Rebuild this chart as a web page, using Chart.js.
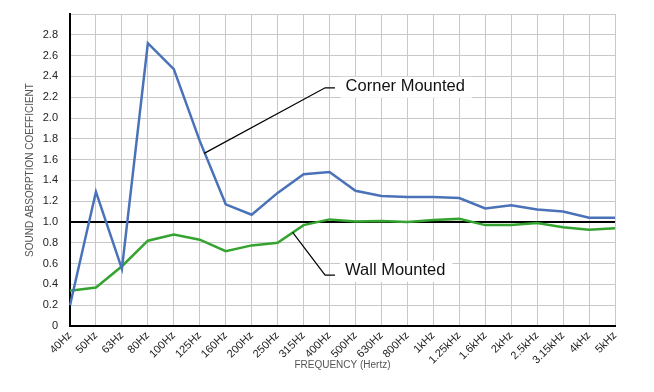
<!DOCTYPE html>
<html>
<head>
<meta charset="utf-8">
<script src="https://cdn.jsdelivr.net/npm/chart.js@4/dist/chart.umd.min.js"></script>
<style>
  html, body { margin: 0; padding: 0; background: #fff; }
  #chart { display: block; }
</style>
</head>
<body>
<canvas id="chart" width="654" height="392"></canvas>
<script>
const frequencies = ["40Hz", "50Hz", "63Hz", "80Hz", "100Hz", "125Hz", "160Hz", "200Hz", "250Hz", "315Hz", "400Hz",
    "500Hz", "630Hz", "800Hz", "1kHz", "1.25kHz", "1.6kHz", "2kHz", "2.5kHz", "3.15kHz", "4kHz", "5kHz"];

const cornerMounted = [0.20, 1.29, 0.55, 2.72, 2.47, 1.78, 1.17, 1.07, 1.28, 1.46, 1.48,
    1.30, 1.25, 1.24, 1.24, 1.23, 1.13, 1.16, 1.12, 1.10, 1.04, 1.04];

const wallMounted = [0.34, 0.37, 0.575, 0.82, 0.88, 0.83, 0.72, 0.775, 0.80, 0.97, 1.025,
    1.005, 1.01, 1.0, 1.02, 1.03, 0.97, 0.97, 0.99, 0.95, 0.925, 0.94];

const seriesNames = ["Corner Mounted", "Wall Mounted"];

const yMin = 0;
const yMax = 3;
const yStep = 0.2;

// callout labels: where the leader touches the line, the elbow, and where the text sits (in data units)
const callouts = [
    { text: seriesNames[0], from: [5.17, 1.66], elbow: [9.83, 2.29], end: 10.21, textX: 10.62, textY: 2.30 },
    { text: seriesNames[1], from: [8.58, 0.90], elbow: [9.83, 0.49], end: 10.21, textX: 10.60, textY: 0.53 }
];

const calloutPlugin = {
    id: "callouts",
    afterDatasetsDraw(chart) {
        const ctx = chart.ctx;
        const xs = chart.scales.x;
        const ys = chart.scales.y;

        ctx.save();
        ctx.font = "16.5px 'Liberation Sans', Arial, sans-serif";
        ctx.textBaseline = "middle";

        callouts.forEach(c => {
            const tx = xs.getPixelForValue(c.textX);
            const ty = ys.getPixelForValue(c.textY);
            const w = ctx.measureText(c.text).width;

            ctx.fillStyle = "#fff";
            ctx.fillRect(tx - 5, ty - 10, w + 12, 21);

            ctx.strokeStyle = "#000";
            ctx.lineWidth = 1.2;
            ctx.beginPath();
            ctx.moveTo(xs.getPixelForValue(c.from[0]), ys.getPixelForValue(c.from[1]));
            ctx.lineTo(xs.getPixelForValue(c.elbow[0]), ys.getPixelForValue(c.elbow[1]));
            ctx.lineTo(xs.getPixelForValue(c.end), ys.getPixelForValue(c.elbow[1]));
            ctx.stroke();

            ctx.fillStyle = "#111";
            ctx.fillText(c.text, tx, ty);
        });

        ctx.restore();
    }
};

new Chart("chart", {
    type: "line",
    data: {
        labels: frequencies,
        datasets: [{
            label: seriesNames[0],
            data: cornerMounted,
            borderColor: "#4a72b8",
            borderWidth: 2.5,
            pointRadius: 0,
            tension: 0
        }, {
            label: seriesNames[1],
            data: wallMounted,
            borderColor: "#35a330",
            borderWidth: 2.5,
            pointRadius: 0,
            tension: 0
        }]
    },
    options: {
        responsive: false,
        animation: false,
        layout: { padding: { left: 0, top: 14, right: 39, bottom: 0 } },
        plugins: {
            legend: { display: false },
            tooltip: { enabled: false }
        },
        scales: {
            x: {
                offset: false,
                afterFit: scale => {
                    scale.height = 66;
                    scale.paddingTop = 0;
                },
                grid: {
                    color: "#c8c8c8",
                    lineWidth: 1,
                    drawTicks: false
                },
                border: { display: true, color: "#000", width: 2 },
                ticks: {
                    autoSkip: false,
                    minRotation: 45,
                    maxRotation: 45,
                    padding: 3,
                    color: "#222",
                    font: { family: "'Liberation Sans', Arial, sans-serif", size: 11 }
                },
                title: {
                    display: true,
                    text: "FREQUENCY (Hertz)",
                    color: "#555",
                    padding: { top: 0, bottom: 21 },
                    font: { family: "'Liberation Sans', Arial, sans-serif", size: 10 }
                }
            },
            y: {
                min: yMin,
                max: yMax,
                afterFit: scale => {
                    scale.width = 70;
                    scale.paddingTop = 0;
                    scale.paddingBottom = 0;
                },
                grid: {
                    color: ctx => ctx.tick && ctx.tick.value === 1 ? "#000" : "#c8c8c8",
                    lineWidth: ctx => ctx.tick && ctx.tick.value === 1 ? 2 : 1,
                    drawTicks: false
                },
                border: { display: true, color: "#000", width: 2 },
                ticks: {
                    stepSize: yStep,
                    padding: 12,
                    color: "#222",
                    font: { family: "'Liberation Sans', Arial, sans-serif", size: 11 },
                    callback: val => {
                        if (val === 0) return "0";
                        if (val >= yMax - 0.001) return "";
                        return val.toFixed(1);
                    }
                },
                title: {
                    display: true,
                    text: "SOUND ABSORPTION COEFFICIENT",
                    color: "#555",
                    padding: { top: 24, bottom: 0 },
                    font: { family: "'Liberation Sans', Arial, sans-serif", size: 10 }
                }
            }
        }
    },
    plugins: [calloutPlugin]
});
</script>
</body>
</html>
